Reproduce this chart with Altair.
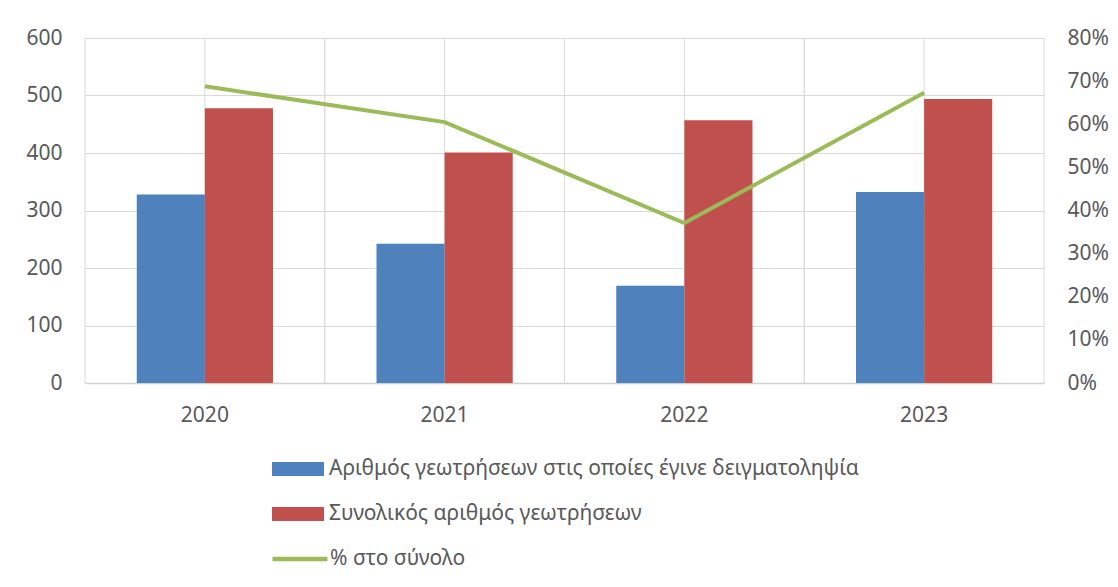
import altair as alt
import pandas as pd

years = ["2020", "2021", "2022", "2023"]
sampled = [328, 242, 169, 332]
total = [478, 401, 457, 494]
pct = [0.688, 0.605, 0.371, 0.673]

s1 = "Αριθμός γεωτρήσεων στις οποίες έγινε δειγματοληψία"
s2 = "Συνολικός αριθμός γεωτρήσεων"
s3 = "% στο σύνολο"

BLUE, RED, GREEN = "#4F81BD", "#C0504D", "#9BBB59"
GRID = "#D9D9D9"
TXT = "#595959"
FONT = "Noto Sans"
FS = 21

bars_df = pd.DataFrame(
    {"year": years * 2, "series": [s1] * 4 + [s2] * 4, "value": sampled + total}
)
line_df = pd.DataFrame({"year": years, "pct": pct, "label": [s3] * 4})
grid_df = pd.DataFrame({"year": years})

xscale = alt.Scale(domain=years, paddingInner=0, paddingOuter=0)
xaxis = alt.Axis(
    title=None, labelAngle=0, ticks=False, labelPadding=21,
    domainColor="#D0D0D0", domainWidth=1.5, grid=False,
)

def vgrid(bp):
    return alt.Chart(grid_df).mark_rule(color=GRID, strokeWidth=1).encode(
        x=alt.X("year:N", scale=xscale, sort=years, bandPosition=bp, axis=xaxis)
    )

bars = alt.Chart(bars_df).mark_bar().encode(
    x=alt.X("year:N", scale=xscale, sort=years, axis=xaxis),
    xOffset=alt.XOffset(
        "series:N", sort=[s1, s2],
        scale=alt.Scale(domain=[s1, s2], paddingInner=0, paddingOuter=0.76),
    ),
    y=alt.Y(
        "value:Q",
        scale=alt.Scale(domain=[0, 600], nice=False),
        axis=alt.Axis(
            title=None, values=[0, 100, 200, 300, 400, 500, 600], ticks=False,
            domain=False, labelPadding=23, grid=True, gridColor=GRID,
        ),
    ),
    fill=alt.Fill(
        "series:N",
        scale=alt.Scale(domain=[s1, s2], range=[BLUE, RED]),
        legend=alt.Legend(
            title=None, orient="none", legendX=187, legendY=405, direction="vertical",
            symbolType="M-1,-0.27L1,-0.27L1,0.27L-1,0.27Z", symbolSize=2704,
            symbolStrokeWidth=0, labelOffset=5, rowPadding=9, padding=0,
        ),
    ),
)

line = alt.Chart(line_df).mark_line(strokeWidth=4).encode(
    x=alt.X("year:N", scale=xscale, sort=years, axis=xaxis),
    y=alt.Y(
        "pct:Q",
        scale=alt.Scale(domain=[0, 0.8], nice=False),
        axis=alt.Axis(
            title=None, orient="right", format=".0%",
            values=[0, 0.1, 0.2, 0.3, 0.4, 0.5, 0.6, 0.7, 0.8],
            ticks=False, domain=False, labelPadding=23, grid=False,
        ),
    ),
    stroke=alt.Stroke(
        "label:N",
        scale=alt.Scale(domain=[s3], range=[GREEN]),
        legend=alt.Legend(
            title=None, orient="none", legendX=185, legendY=491,
            symbolType="stroke", symbolSize=3025, symbolStrokeWidth=4.5,
            labelOffset=0, padding=0,
        ),
    ),
)

chart = (
    alt.layer(vgrid(0), vgrid(0.5), vgrid(1), bars, line)
    .resolve_scale(y="independent", fill="independent", stroke="independent")
    .properties(
        width=959, height=345,
        autosize=alt.AutoSizeParams(type="none"),
        padding={"left": 77, "top": 30, "right": 66, "bottom": 196},
    )
    .configure_view(stroke=None)
    .configure_axis(labelFont=FONT, labelFontSize=FS, labelColor=TXT)
    .configure_legend(labelFont=FONT, labelFontSize=FS, labelColor=TXT, labelLimit=0)
)

chart.save("out.html", embed_options={"renderer": "svg", "actions": False})
